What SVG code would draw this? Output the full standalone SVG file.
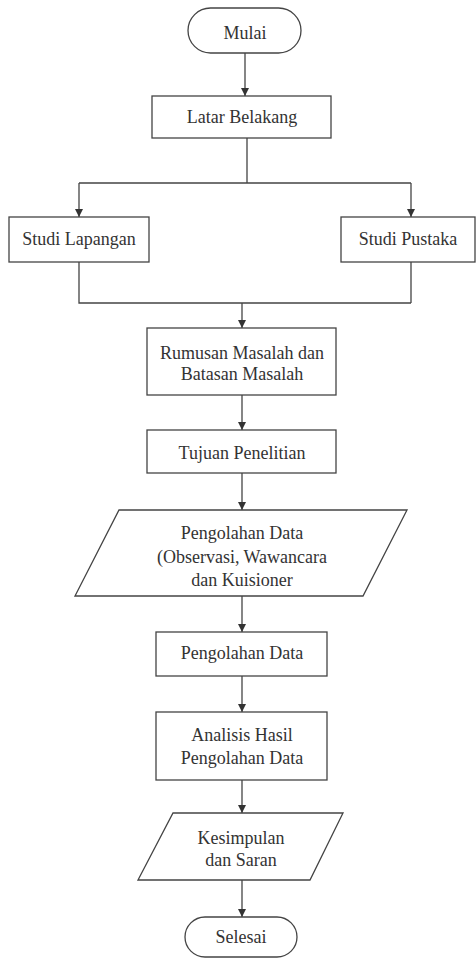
<svg xmlns="http://www.w3.org/2000/svg" width="476" height="958" viewBox="0 0 476 958">
<defs>
<marker id="ah" markerUnits="userSpaceOnUse" markerWidth="8" markerHeight="8" refX="8" refY="4" orient="auto">
<path d="M0,0 L8,4 L0,8 z" fill="#333"/>
</marker>
<style>
.s{fill:#fff;stroke:#444;stroke-width:1.3}
.c{fill:none;stroke:#444;stroke-width:1.3}
.a{marker-end:url(#ah)}
.t{font-family:"Liberation Serif","DejaVu Serif","Times New Roman",serif;font-size:18px;fill:#333;text-anchor:middle}
</style>
</defs>
<rect width="476" height="958" fill="#fff"/>
<g id="connectors">
<path class="c a" d="M245,53 V96"/>
<path class="c" d="M247,138 V183 M79,183 H411"/>
<path class="c a" d="M79,183 V217"/>
<path class="c a" d="M411,183 V217"/>
<path class="c" d="M79,262 V303 H411 M411,262 V303"/>
<path class="c a" d="M242,303 V328"/>
<path class="c a" d="M242,395 V430"/>
<path class="c a" d="M242,473 V510"/>
<path class="c a" d="M242,596 V632"/>
<path class="c a" d="M242,676 V712"/>
<path class="c a" d="M242,780 V813"/>
<path class="c a" d="M242,880 V917"/>
</g>
<g id="mulai">
<rect class="s" x="188" y="8" width="113" height="45" rx="22.5"/>
<text class="t" x="245" y="39">Mulai</text>
</g>
<g id="latar">
<rect class="s" x="152" y="96" width="179" height="42"/>
<text class="t" x="242" y="123">Latar Belakang</text>
</g>
<g id="studi-lapangan">
<rect class="s" x="9" y="217" width="140" height="45"/>
<text class="t" x="79" y="245">Studi Lapangan</text>
</g>
<g id="studi-pustaka">
<rect class="s" x="341" y="217" width="134" height="45"/>
<text class="t" x="408" y="245">Studi Pustaka</text>
</g>
<g id="rumusan">
<rect class="s" x="147" y="328" width="189" height="67"/>
<text class="t" x="242" y="359">Rumusan Masalah dan</text>
<text class="t" x="242" y="380">Batasan Masalah</text>
</g>
<g id="tujuan">
<rect class="s" x="147" y="430" width="189" height="43"/>
<text class="t" x="242" y="459">Tujuan Penelitian</text>
</g>
<g id="pengumpulan">
<polygon class="s" points="119,510 407,510 363,596 75,596"/>
<text class="t" x="242" y="539">Pengolahan Data</text>
<text class="t" x="242" y="563">(Observasi, Wawancara</text>
<text class="t" x="242" y="586">dan Kuisioner</text>
</g>
<g id="pengolahan">
<rect class="s" x="156" y="632" width="171" height="44"/>
<text class="t" x="242" y="659">Pengolahan Data</text>
</g>
<g id="analisis">
<rect class="s" x="156" y="712" width="171" height="68"/>
<text class="t" x="242" y="741">Analisis Hasil</text>
<text class="t" x="242" y="764">Pengolahan Data</text>
</g>
<g id="kesimpulan">
<polygon class="s" points="173,813 343,813 310,880 138,880"/>
<text class="t" x="241" y="844">Kesimpulan</text>
<text class="t" x="241" y="866">dan Saran</text>
</g>
<g id="selesai">
<rect class="s" x="185" y="917" width="112" height="40" rx="20"/>
<text class="t" x="241" y="943">Selesai</text>
</g>
</svg>
